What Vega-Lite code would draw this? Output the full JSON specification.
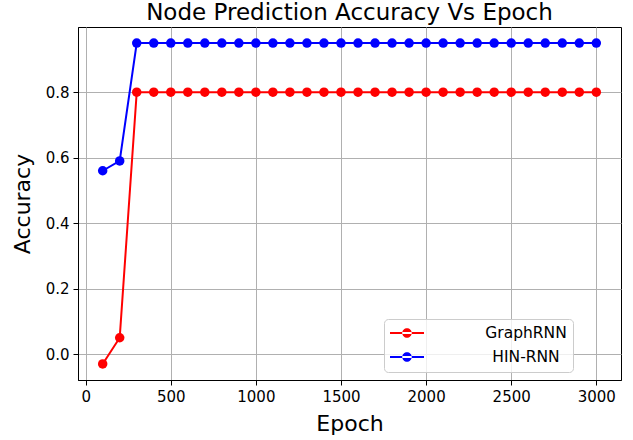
{
  "$schema": "https://vega.github.io/schema/vega-lite/v6.json",
  "autosize": {"type": "none"},
  "width": 543,
  "height": 353,
  "padding": {"left": 78, "top": 27, "right": 12, "bottom": 60},
  "background": "white",
  "title": {
    "text": "Node Prediction Accuracy Vs Epoch",
    "fontSize": 23,
    "font": "DejaVu Sans",
    "fontWeight": "normal",
    "color": "black",
    "anchor": "middle",
    "offset": 2
  },
  "config": {
    "view": {"stroke": "black", "strokeWidth": 1},
    "axis": {
      "labelFont": "DejaVu Sans",
      "labelFontSize": 15,
      "labelColor": "black",
      "titleFont": "DejaVu Sans",
      "titleFontSize": 22,
      "titleFontWeight": "normal",
      "titleColor": "black",
      "domainColor": "black",
      "tickColor": "black",
      "tickSize": 5,
      "labelPadding": 4,
      "gridColor": "#b0b0b0",
      "gridWidth": 1,
      "gridOpacity": 1
    }
  },
  "data": {
    "values": [
      {"epoch": 100, "accuracy": -0.03, "model": "GraphRNN"},
      {"epoch": 200, "accuracy": 0.05, "model": "GraphRNN"},
      {"epoch": 300, "accuracy": 0.8, "model": "GraphRNN"},
      {"epoch": 400, "accuracy": 0.8, "model": "GraphRNN"},
      {"epoch": 500, "accuracy": 0.8, "model": "GraphRNN"},
      {"epoch": 600, "accuracy": 0.8, "model": "GraphRNN"},
      {"epoch": 700, "accuracy": 0.8, "model": "GraphRNN"},
      {"epoch": 800, "accuracy": 0.8, "model": "GraphRNN"},
      {"epoch": 900, "accuracy": 0.8, "model": "GraphRNN"},
      {"epoch": 1000, "accuracy": 0.8, "model": "GraphRNN"},
      {"epoch": 1100, "accuracy": 0.8, "model": "GraphRNN"},
      {"epoch": 1200, "accuracy": 0.8, "model": "GraphRNN"},
      {"epoch": 1300, "accuracy": 0.8, "model": "GraphRNN"},
      {"epoch": 1400, "accuracy": 0.8, "model": "GraphRNN"},
      {"epoch": 1500, "accuracy": 0.8, "model": "GraphRNN"},
      {"epoch": 1600, "accuracy": 0.8, "model": "GraphRNN"},
      {"epoch": 1700, "accuracy": 0.8, "model": "GraphRNN"},
      {"epoch": 1800, "accuracy": 0.8, "model": "GraphRNN"},
      {"epoch": 1900, "accuracy": 0.8, "model": "GraphRNN"},
      {"epoch": 2000, "accuracy": 0.8, "model": "GraphRNN"},
      {"epoch": 2100, "accuracy": 0.8, "model": "GraphRNN"},
      {"epoch": 2200, "accuracy": 0.8, "model": "GraphRNN"},
      {"epoch": 2300, "accuracy": 0.8, "model": "GraphRNN"},
      {"epoch": 2400, "accuracy": 0.8, "model": "GraphRNN"},
      {"epoch": 2500, "accuracy": 0.8, "model": "GraphRNN"},
      {"epoch": 2600, "accuracy": 0.8, "model": "GraphRNN"},
      {"epoch": 2700, "accuracy": 0.8, "model": "GraphRNN"},
      {"epoch": 2800, "accuracy": 0.8, "model": "GraphRNN"},
      {"epoch": 2900, "accuracy": 0.8, "model": "GraphRNN"},
      {"epoch": 3000, "accuracy": 0.8, "model": "GraphRNN"},
      {"epoch": 100, "accuracy": 0.56, "model": "HIN-RNN"},
      {"epoch": 200, "accuracy": 0.59, "model": "HIN-RNN"},
      {"epoch": 300, "accuracy": 0.95, "model": "HIN-RNN"},
      {"epoch": 400, "accuracy": 0.95, "model": "HIN-RNN"},
      {"epoch": 500, "accuracy": 0.95, "model": "HIN-RNN"},
      {"epoch": 600, "accuracy": 0.95, "model": "HIN-RNN"},
      {"epoch": 700, "accuracy": 0.95, "model": "HIN-RNN"},
      {"epoch": 800, "accuracy": 0.95, "model": "HIN-RNN"},
      {"epoch": 900, "accuracy": 0.95, "model": "HIN-RNN"},
      {"epoch": 1000, "accuracy": 0.95, "model": "HIN-RNN"},
      {"epoch": 1100, "accuracy": 0.95, "model": "HIN-RNN"},
      {"epoch": 1200, "accuracy": 0.95, "model": "HIN-RNN"},
      {"epoch": 1300, "accuracy": 0.95, "model": "HIN-RNN"},
      {"epoch": 1400, "accuracy": 0.95, "model": "HIN-RNN"},
      {"epoch": 1500, "accuracy": 0.95, "model": "HIN-RNN"},
      {"epoch": 1600, "accuracy": 0.95, "model": "HIN-RNN"},
      {"epoch": 1700, "accuracy": 0.95, "model": "HIN-RNN"},
      {"epoch": 1800, "accuracy": 0.95, "model": "HIN-RNN"},
      {"epoch": 1900, "accuracy": 0.95, "model": "HIN-RNN"},
      {"epoch": 2000, "accuracy": 0.95, "model": "HIN-RNN"},
      {"epoch": 2100, "accuracy": 0.95, "model": "HIN-RNN"},
      {"epoch": 2200, "accuracy": 0.95, "model": "HIN-RNN"},
      {"epoch": 2300, "accuracy": 0.95, "model": "HIN-RNN"},
      {"epoch": 2400, "accuracy": 0.95, "model": "HIN-RNN"},
      {"epoch": 2500, "accuracy": 0.95, "model": "HIN-RNN"},
      {"epoch": 2600, "accuracy": 0.95, "model": "HIN-RNN"},
      {"epoch": 2700, "accuracy": 0.95, "model": "HIN-RNN"},
      {"epoch": 2800, "accuracy": 0.95, "model": "HIN-RNN"},
      {"epoch": 2900, "accuracy": 0.95, "model": "HIN-RNN"},
      {"epoch": 3000, "accuracy": 0.95, "model": "HIN-RNN"}
    ]
  },
  "mark": {"type": "line", "strokeWidth": 2, "point": {"filled": true, "size": 90, "opacity": 1}},
  "encoding": {
    "x": {
      "field": "epoch",
      "type": "quantitative",
      "scale": {"domain": [-45, 3145], "nice": false, "zero": false},
      "axis": {"values": [0, 500, 1000, 1500, 2000, 2500, 3000], "format": "d", "title": "Epoch", "titleBaseline": "alphabetic", "titleY": 50, "titleX": 271.5}
    },
    "y": {
      "field": "accuracy",
      "type": "quantitative",
      "scale": {"domain": [-0.079, 0.999], "nice": false, "zero": false},
      "axis": {"values": [0, 0.2, 0.4, 0.6, 0.8], "format": ".1f", "title": "Accuracy", "titleBaseline": "alphabetic", "titleX": -49, "titleY": 176.5, "titleAngle": 270}
    },
    "color": {
      "field": "model",
      "type": "nominal",
      "scale": {"domain": ["GraphRNN", "HIN-RNN"], "range": ["#ff0000", "#0000ff"]},
      "legend": {
        "title": null,
        "orient": "none",
        "legendX": 306,
        "legendY": 292,
        "padding": 6,
        "fillColor": "rgba(255,255,255,0.8)",
        "strokeColor": "#cccccc",
        "cornerRadius": 4,
        "symbolType": "M-1,-0.06L1,-0.06L1,0.06L-1,0.06Z M-0.28,0A0.28,0.28 0 1,0 0.28,0A0.28,0.28 0 1,0 -0.28,0Z",
        "symbolSize": 1156,
        "symbolStrokeWidth": 0,
        "symbolOpacity": 1,
        "clipHeight": 16,
        "labelFont": "DejaVu Sans",
        "labelFontSize": 15.5,
        "labelColor": "black",
        "labelAlign": "center",
        "labelOffset": 102,
        "labelLimit": 400,
        "rowPadding": 7,
        "labelExpr": "'        ' + datum.label + '        '",
        "encode": {
          "symbols": {"update": {"fill": {"scale": "color", "field": "value"}, "stroke": {"value": "transparent"}}}
        }
      }
    }
  }
}
